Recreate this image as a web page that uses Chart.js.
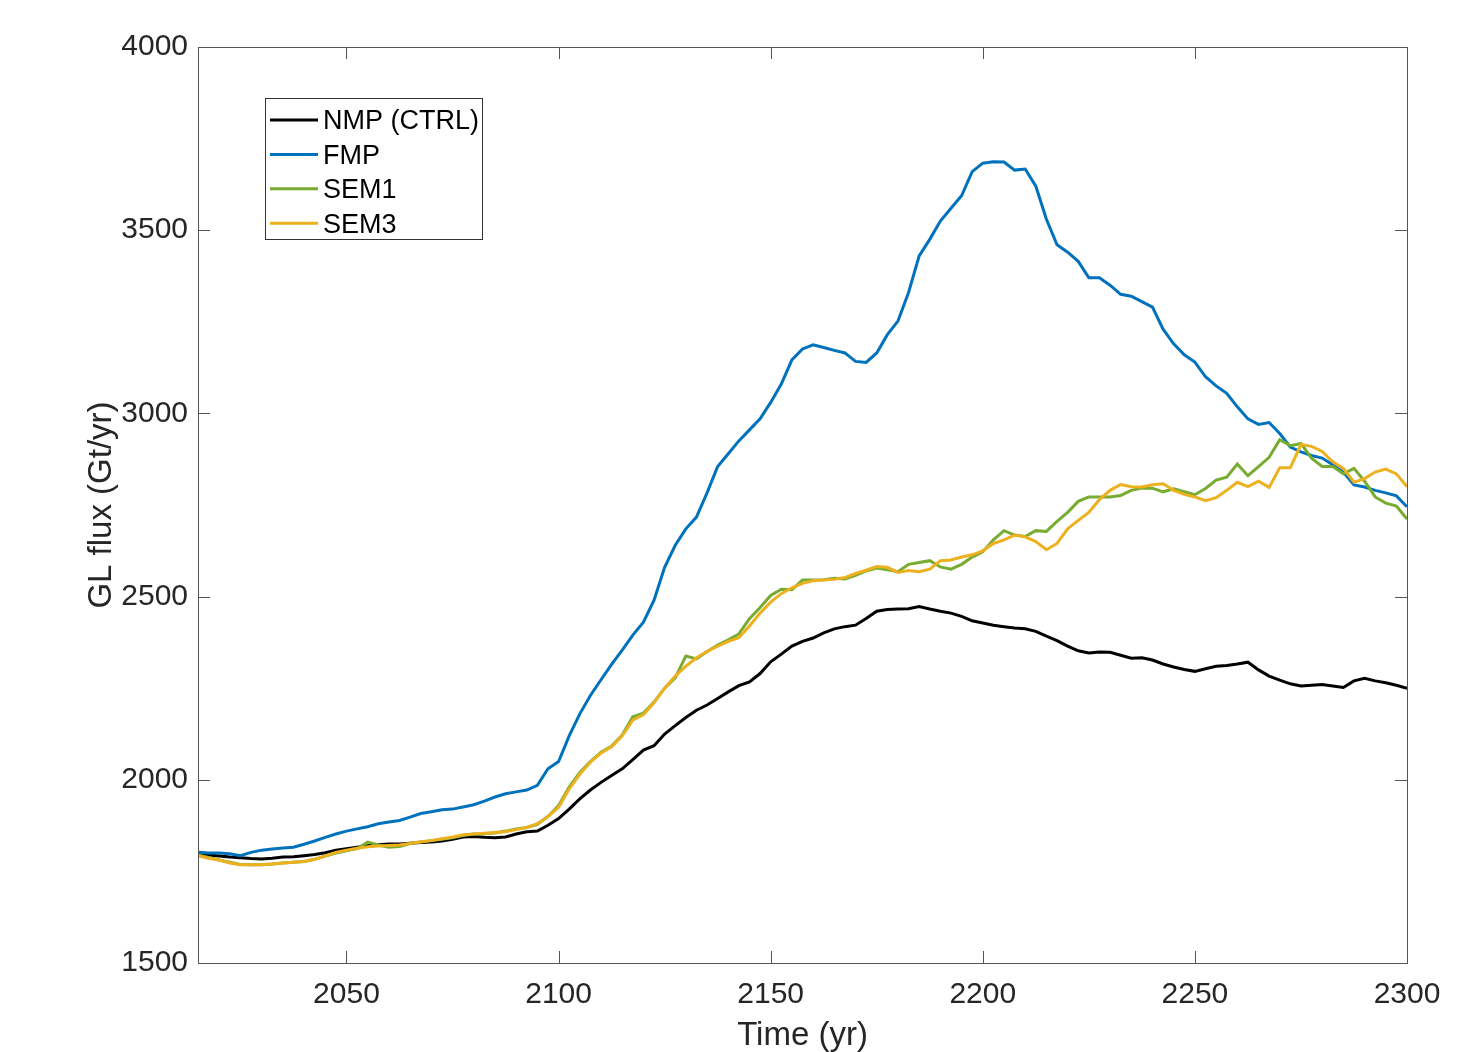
<!DOCTYPE html>
<html>
<head>
<meta charset="utf-8">
<script src="https://cdn.jsdelivr.net/npm/chart.js@4.4.0/dist/chart.umd.min.js"></script>
<style>
  html, body { margin: 0; padding: 0; background: #fff; }
  #wrap { width: 1480px; height: 1052px; }
</style>
</head>
<body>
<div id="wrap"><canvas id="glflux" width="1480" height="1052"></canvas></div>
<script>
// time axis (yr), sampled every 2.5 years
const years = [
  2015, 2017.5, 2020, 2022.5, 2025, 2027.5, 2030, 2032.5, 2035, 2037.5,
  2040, 2042.5, 2045, 2047.5, 2050, 2052.5, 2055, 2057.5, 2060, 2062.5,
  2065, 2067.5, 2070, 2072.5, 2075, 2077.5, 2080, 2082.5, 2085, 2087.5,
  2090, 2092.5, 2095, 2097.5, 2100, 2102.5, 2105, 2107.5, 2110, 2112.5,
  2115, 2117.5, 2120, 2122.5, 2125, 2127.5, 2130, 2132.5, 2135, 2137.5,
  2140, 2142.5, 2145, 2147.5, 2150, 2152.5, 2155, 2157.5, 2160, 2162.5,
  2165, 2167.5, 2170, 2172.5, 2175, 2177.5, 2180, 2182.5, 2185, 2187.5,
  2190, 2192.5, 2195, 2197.5, 2200, 2202.5, 2205, 2207.5, 2210, 2212.5,
  2215, 2217.5, 2220, 2222.5, 2225, 2227.5, 2230, 2232.5, 2235, 2237.5,
  2240, 2242.5, 2245, 2247.5, 2250, 2252.5, 2255, 2257.5, 2260, 2262.5,
  2265, 2267.5, 2270, 2272.5, 2275, 2277.5, 2280, 2282.5, 2285, 2287.5,
  2290, 2292.5, 2295, 2297.5, 2300
];

// GL flux (Gt/yr)
const nmp = [
  1800, 1795, 1792, 1789, 1787, 1785, 1784, 1786, 1789, 1790,
  1793, 1796, 1801, 1808, 1812, 1816, 1820, 1823, 1825, 1825,
  1827, 1829, 1830, 1833, 1838, 1844, 1845, 1843, 1842, 1844,
  1852, 1858, 1860, 1876, 1894, 1920, 1948, 1972, 1993, 2012,
  2030, 2055, 2081, 2093, 2125, 2148, 2170, 2190, 2204, 2222,
  2240, 2257, 2267, 2290, 2322, 2343, 2365, 2378, 2387, 2401,
  2412, 2418, 2422, 2440, 2460, 2465, 2466, 2467, 2473, 2466,
  2460, 2455, 2446, 2434, 2428, 2422, 2418, 2414, 2412, 2405,
  2392, 2380, 2365, 2352, 2346, 2349, 2348, 2340, 2332, 2333,
  2327, 2316, 2308, 2301, 2296, 2303, 2310, 2312, 2316, 2321,
  2300, 2283, 2272, 2262, 2256, 2258, 2260, 2256, 2252, 2270,
  2277, 2270, 2265, 2258, 2250
];

const fmp = [
  1802, 1800, 1800, 1798, 1793, 1802, 1808, 1811, 1814, 1816,
  1824, 1833, 1843, 1852, 1860, 1866, 1872, 1880, 1885, 1889,
  1898, 1908, 1913, 1918, 1920, 1926, 1932, 1942, 1953, 1962,
  1967, 1972, 1985, 2030, 2050, 2120, 2180, 2230, 2273, 2315,
  2354, 2395, 2430, 2490, 2580, 2640, 2685, 2717, 2783, 2855,
  2890, 2925, 2955, 2985, 3030, 3080, 3146, 3176, 3187, 3180,
  3172, 3165, 3142, 3139, 3165, 3215, 3252, 3330, 3430, 3475,
  3525, 3560, 3594, 3660, 3683, 3687, 3686, 3664, 3667, 3620,
  3530, 3460, 3440, 3415, 3370, 3370, 3350, 3325, 3320, 3305,
  3290, 3230, 3190, 3160, 3140, 3100, 3075, 3055, 3018, 2985,
  2970, 2975, 2945, 2908, 2895, 2885, 2878, 2860, 2840, 2805,
  2799, 2790, 2783, 2775, 2745
];

const sem1 = [
  1795, 1788, 1781, 1775, 1769, 1768, 1768, 1770, 1773, 1775,
  1777, 1783, 1792, 1800, 1806, 1812, 1830, 1822, 1816, 1818,
  1826, 1830, 1834, 1838, 1842, 1848, 1852, 1853, 1855, 1860,
  1866, 1870, 1878, 1900, 1930, 1980, 2020, 2050, 2075, 2092,
  2122, 2172, 2182, 2212, 2250, 2278, 2338, 2330, 2350, 2368,
  2382, 2398, 2440, 2470, 2503, 2520, 2519, 2545, 2545, 2546,
  2550, 2548, 2558, 2570, 2578, 2573, 2568, 2588, 2593, 2598,
  2581, 2575, 2588, 2608, 2622, 2655, 2680, 2668, 2664, 2680,
  2678, 2705, 2730, 2760, 2772, 2772, 2772, 2776, 2790, 2796,
  2796, 2786, 2794, 2786, 2778, 2795, 2818, 2826, 2862, 2830,
  2855, 2880, 2928, 2912, 2918, 2878, 2855, 2855, 2835, 2850,
  2815, 2772, 2755, 2747, 2712
];

const sem3 = [
  1793, 1786, 1781, 1773, 1768, 1768, 1768, 1770, 1773, 1775,
  1777, 1783, 1792, 1802, 1808, 1813, 1817, 1819, 1821, 1822,
  1826, 1831, 1834, 1839, 1844, 1850, 1852, 1854, 1856, 1858,
  1864, 1870, 1880, 1900, 1925, 1975, 2015, 2048, 2073, 2090,
  2120, 2163, 2178, 2210, 2250, 2283, 2310, 2333, 2350, 2365,
  2378, 2388, 2420, 2455, 2485, 2508, 2524, 2536, 2543, 2545,
  2547, 2552, 2563, 2572, 2582, 2580, 2566, 2571, 2568, 2575,
  2598, 2600, 2608, 2614, 2625, 2645, 2655, 2668, 2663, 2650,
  2628, 2645, 2685, 2708, 2730, 2765, 2790, 2806, 2800, 2799,
  2805, 2808, 2790, 2779, 2772, 2762, 2770, 2790, 2812, 2800,
  2815, 2798, 2852, 2852, 2915, 2910, 2896, 2868, 2850, 2812,
  2822, 2840, 2848, 2835, 2800
];

const xTicks = [2050, 2100, 2150, 2200, 2250, 2300];
const yTicks = [1500, 2000, 2500, 3000, 3500, 4000];

const seriesNames  = ['NMP (CTRL)', 'FMP', 'SEM1', 'SEM3'];
const seriesValues = [nmp, fmp, sem1, sem3];
const seriesColors = ['#000000', '#0072BD', '#77AC30', '#EDB120'];

const textColor = '#262626';
const fontFamily = "'Liberation Sans', Arial, Helvetica, sans-serif";

// MATLAB style box with inward ticks on all four sides
const boxPlugin = {
  id: 'box',
  afterDatasetsDraw(chart) {
    const { ctx, chartArea: a, scales: { x, y } } = chart;
    const len = 12;
    ctx.save();
    ctx.strokeStyle = '#555555';
    ctx.lineWidth = 1;
    ctx.strokeRect(a.left + 0.5, a.top + 0.5, a.right - a.left, a.bottom - a.top);
    ctx.beginPath();
    x.ticks.forEach(t => {
      const px = Math.round(x.getPixelForValue(t.value)) + 0.5;
      ctx.moveTo(px, a.bottom); ctx.lineTo(px, a.bottom - len);
      ctx.moveTo(px, a.top);    ctx.lineTo(px, a.top + len);
    });
    y.ticks.forEach(t => {
      const py = Math.round(y.getPixelForValue(t.value)) + 0.5;
      ctx.moveTo(a.left, py);  ctx.lineTo(a.left + len, py);
      ctx.moveTo(a.right, py); ctx.lineTo(a.right - len, py);
    });
    ctx.stroke();
    ctx.restore();
  }
};

// legend box in the upper left of the axes
const legendPlugin = {
  id: 'boxLegend',
  afterDraw(chart) {
    const { ctx, chartArea: a } = chart;
    const bx = a.left + 67, by = a.top + 51, bw = 217, bh = 141;
    ctx.save();
    ctx.fillStyle = '#ffffff';
    ctx.fillRect(bx, by, bw, bh);
    ctx.strokeStyle = '#333333';
    ctx.lineWidth = 1;
    ctx.strokeRect(bx + 0.5, by + 0.5, bw, bh);
    ctx.font = '27px ' + fontFamily;
    ctx.textBaseline = 'middle';
    ctx.textAlign = 'left';
    chart.data.datasets.forEach((ds, i) => {
      const ry = by + 22 + i * 34.4;
      ctx.strokeStyle = ds.borderColor;
      ctx.lineWidth = 3;
      ctx.beginPath();
      ctx.moveTo(bx + 5, ry);
      ctx.lineTo(bx + 53, ry);
      ctx.stroke();
      ctx.fillStyle = '#000000';
      ctx.fillText(ds.label, bx + 58, ry + 2);
    });
    ctx.restore();
  }
};

new Chart(document.getElementById('glflux'), {
  type: 'line',
  data: {
    datasets: seriesNames.map((name, i) => ({
      label: name,
      data: years.map((yr, k) => ({ x: yr, y: seriesValues[i][k] })),
      borderColor: seriesColors[i],
      backgroundColor: seriesColors[i],
      borderWidth: 3,
      pointRadius: 0,
      tension: 0,
      fill: false,
      order: seriesNames.length - i
    }))
  },
  options: {
    responsive: false,
    animation: false,
    devicePixelRatio: 1,
    layout: { padding: { left: 0, top: 47, right: 73, bottom: 0 } },
    plugins: {
      legend: { display: false },
      tooltip: { enabled: false }
    },
    scales: {
      x: {
        type: 'linear',
        min: 2015,
        max: 2300,
        afterBuildTicks: s => { s.ticks = xTicks.map(v => ({ value: v })); },
        afterFit: s => { s.height = 89; },
        grid: { display: false },
        border: { display: false },
        ticks: {
          color: textColor,
          font: { family: fontFamily, size: 30 },
          padding: 6,
          maxRotation: 0,
          callback: v => String(v)
        },
        title: {
          display: true,
          text: 'Time (yr)',
          color: textColor,
          font: { family: fontFamily, size: 33 },
          padding: { top: 0, bottom: -4 }
        }
      },
      y: {
        min: 1500,
        max: 4000,
        afterBuildTicks: s => { s.ticks = yTicks.map(v => ({ value: v })); },
        afterFit: s => { s.width = 198; },
        grid: { display: false },
        border: { display: false },
        ticks: {
          color: textColor,
          font: { family: fontFamily, size: 30 },
          padding: 2,
          callback: v => String(v)
        },
        title: {
          display: true,
          text: 'GL flux (Gt/yr)',
          color: textColor,
          font: { family: fontFamily, size: 33 },
          padding: { top: 82, bottom: 0 }
        }
      }
    }
  },
  plugins: [boxPlugin, legendPlugin]
});
</script>
</body>
</html>
